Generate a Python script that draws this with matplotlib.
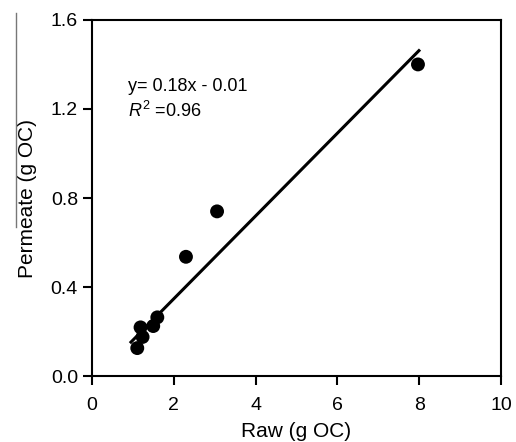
import matplotlib
matplotlib.use("Agg")
import matplotlib.pyplot as plt
from matplotlib.lines import Line2D
import numpy as np

plt.rcParams['font.family'] = ['Liberation Sans', 'DejaVu Sans']
plt.rcParams['mathtext.fontset'] = 'custom'
plt.rcParams['mathtext.rm'] = 'Liberation Sans'
plt.rcParams['mathtext.it'] = 'Liberation Sans:italic'

# data
raw = [1.11, 1.24, 1.19, 1.50, 1.60, 2.30, 3.06, 7.97]
permeate = [0.126, 0.176, 0.219, 0.225, 0.264, 0.536, 0.740, 1.40]

# regression line as drawn
fit_slope = 0.186
fit_icept = -0.025
fit_x = [0.93, 8.02]

xticks = [0, 2, 4, 6, 8, 10]
yticks = [0.0, 0.4, 0.8, 1.2, 1.6]

fig = plt.figure(figsize=(5.16, 4.42), dpi=100)
ax = fig.add_axes([0.178, 0.149, 0.793, 0.806])

fx = np.array(fit_x)
ax.plot(fx, fit_slope*fx + fit_icept, color='black', lw=2.2, solid_capstyle='butt', zorder=2)
ax.scatter(raw, permeate, s=100, color='black', edgecolors='none', zorder=3)

ax.set_xlim(0, 10)
ax.set_ylim(0, 1.6)
ax.set_xticks(xticks)
ax.set_yticks(yticks)
ax.set_yticklabels([f'{v:.1f}' for v in yticks])
ax.tick_params(direction='out', length=6.5, width=1.5, labelsize=14, pad=3.5)
ax.tick_params(axis='x', pad=8.5)
for sp in ax.spines.values():
    sp.set_linewidth(1.5)

ax.set_xlabel('Raw (g OC)', fontsize=15, labelpad=6)
ax.set_ylabel('Permeate (g OC)', fontsize=15, labelpad=10)

ax.text(0.88, 1.281, 'y= 0.18x - 0.01', fontsize=13)
ax.text(0.88, 1.162, r'$R^2$ =0.96', fontsize=13)

# thin grey line at the left edge of the source image
fig.add_artist(Line2D([15.5/516, 15.5/516], [1 - 13/442, 1 - 227/442],
                      transform=fig.transFigure, color='#777777', lw=1))

fig.savefig('out.png', dpi=100)
